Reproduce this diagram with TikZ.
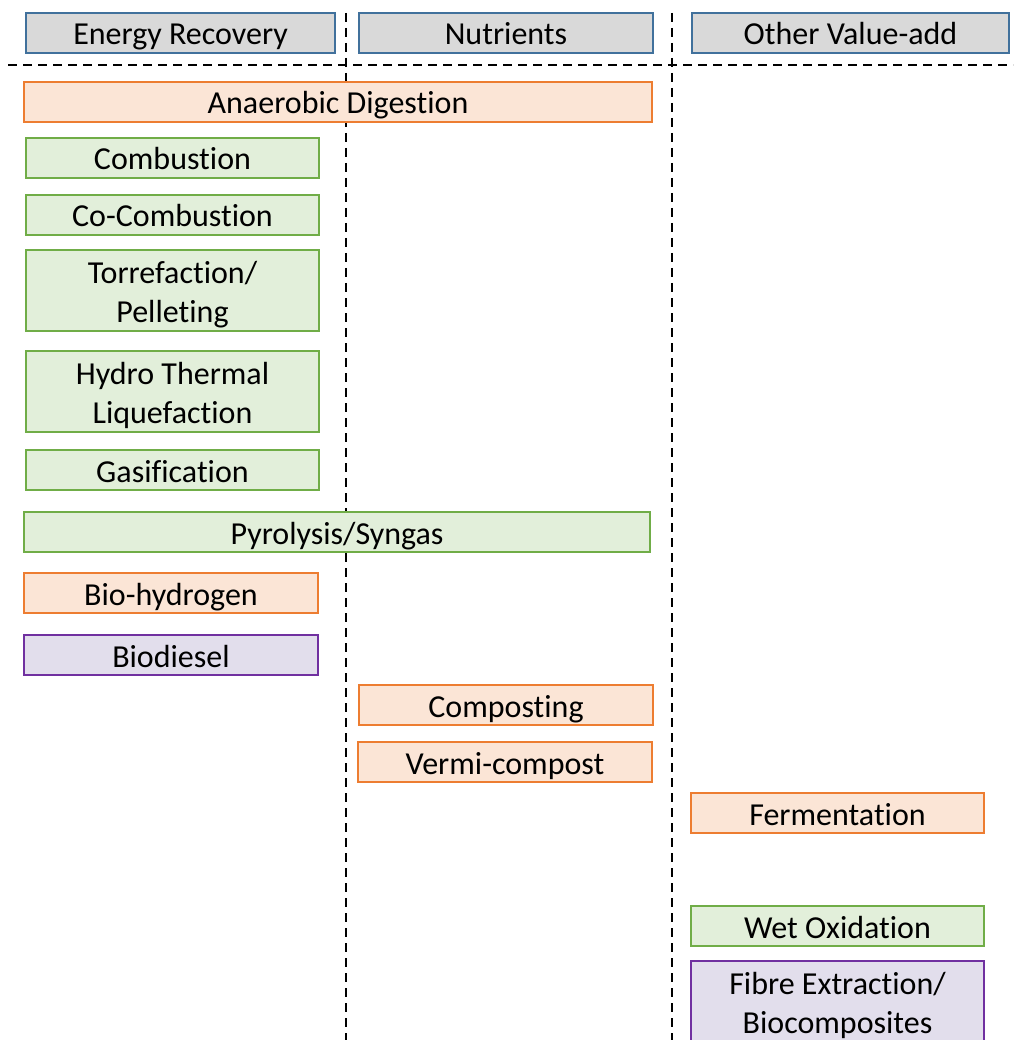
\documentclass[tikz,border=0pt]{standalone}
\usepackage{fontspec}
\setmainfont[Ligatures=NoCommon]{Carlito}
\definecolor{hdrfill}{HTML}{D9D9D9}
\definecolor{hdrline}{HTML}{41719C}
\definecolor{orfill}{HTML}{FBE5D6}
\definecolor{orline}{HTML}{ED7D31}
\definecolor{grfill}{HTML}{E2EFDA}
\definecolor{grline}{HTML}{70AD47}
\definecolor{pufill}{HTML}{E2DEEC}
\definecolor{puline}{HTML}{7030A0}
\newcommand{\pbox}[7]{\node[#1, minimum width={(#5-#3)*1pt}, minimum height={(#6-#4)*1pt}] (#2) at ({(#3+#5)/2},{(#4+#6)/2}) {#7};}
\begin{document}
\begin{tikzpicture}[x=1pt,y=-1pt,
  base/.style={draw, line width=1.4pt, inner sep=0pt, align=center, font=\fontsize{32}{39}\selectfont, text height=24pt, text depth=0pt},
  two/.style={text height=63pt},
  hdr/.style={base, fill=hdrfill, draw=hdrline},
  orb/.style={base, fill=orfill, draw=orline},
  grb/.style={base, fill=grfill, draw=grline},
  pub/.style={base, fill=pufill, draw=puline},
  sep/.style={line width=2.6pt, dash pattern=on 9pt off 6pt}]
\clip (0,0) rectangle (1013,1040);
\fill[white] (0,0) rectangle (1013,1040);
% headers
\pbox{hdr}{h1}{26}{13}{335}{53}{Energy Recovery}
\pbox{hdr}{h2}{359}{13}{653}{53}{Nutrients}
\pbox{hdr}{h3}{692}{13}{1009}{53}{Other Value-add}
% separators
\draw[sep] (8,65) -- (1013,65);
\draw[sep] (346,13) -- (346,1040);
\draw[sep] (672,13) -- (672,1040);
% energy recovery
\pbox{orb}{ad}{24}{82}{652}{122}{Anaerobic Digestion}
\pbox{grb}{comb}{26}{138}{319}{178}{Combustion}
\pbox{grb}{cocomb}{26}{195}{319}{235}{Co-Combustion}
\pbox{grb,two}{torr}{26}{250}{319}{331}{Torrefaction/\\Pelleting}
\pbox{grb,two}{htl}{26}{351}{319}{432}{Hydro Thermal\\Liquefaction}
\pbox{grb}{gas}{26}{450}{319}{490}{Gasification}
\pbox{grb}{pyro}{24}{512}{650}{552}{Pyrolysis/Syngas}
\pbox{orb}{bioh}{24}{573}{318}{613}{Bio-hydrogen}
\pbox{pub}{biod}{24}{635}{318}{675}{Biodiesel}
% nutrients
\pbox{orb}{comp}{359}{685}{653}{725}{Composting}
\pbox{orb}{verm}{358}{742}{652}{782}{Vermi-compost}
% other value-add
\pbox{orb}{ferm}{691}{793}{984}{833}{Fermentation}
\pbox{grb}{wetox}{691}{906}{984}{946}{Wet Oxidation}
\pbox{pub,two}{fibre}{691}{961}{984}{1043}{Fibre Extraction/\\Biocomposites}
\end{tikzpicture}
\end{document}
